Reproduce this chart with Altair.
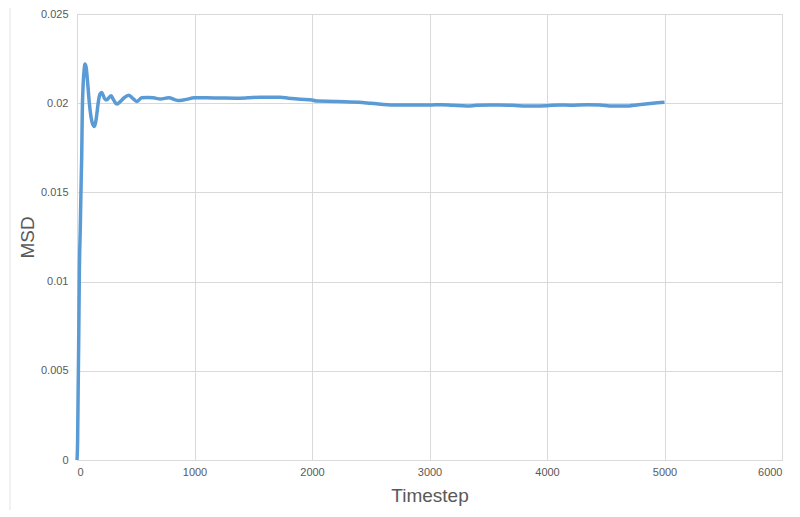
import altair as alt
import pandas as pd

timestep = [0, 5, 10, 15, 20, 28, 35, 40, 45, 52, 60, 68, 78, 90, 105, 120, 135, 150, 165, 180,
            195, 210, 225, 240, 255, 270, 290, 310, 340, 370, 400, 440, 470, 510, 550, 600,
            650, 710, 780, 860, 920, 1000, 1100, 1220, 1350, 1450, 1560, 1650, 1730, 1800,
            1900, 2000, 2040, 2200, 2400, 2500, 2700, 2800, 3000, 3100, 3200, 3320, 3400,
            3520, 3600, 3700, 3880, 4000, 4110, 4200, 4340, 4450, 4560, 4700, 4760, 4900, 5000]
msd = [0.0, 0.001, 0.004, 0.007, 0.0105, 0.013, 0.0155, 0.017, 0.0195, 0.021, 0.0218, 0.0222,
       0.0220, 0.0212, 0.0200, 0.0192, 0.0188, 0.0187, 0.0192, 0.0200, 0.0205, 0.0206, 0.0204,
       0.0202, 0.0202, 0.0203, 0.02042, 0.0202, 0.01995, 0.0201, 0.0203, 0.02045, 0.0203,
       0.0201, 0.0203, 0.02032, 0.0203, 0.02024, 0.0203, 0.02015, 0.0202, 0.0203, 0.0203,
       0.02029, 0.02028, 0.0203, 0.02034, 0.02033, 0.02033, 0.02028, 0.02022, 0.02018,
       0.02012, 0.0201, 0.02005, 0.0200, 0.0199, 0.0199, 0.0199, 0.01992, 0.01988, 0.01984,
       0.01988, 0.0199, 0.0199, 0.01988, 0.01984, 0.01986, 0.0199, 0.01989, 0.01992, 0.0199,
       0.01984, 0.01985, 0.0199, 0.0200, 0.02005]

x_ticks = [0, 1000, 2000, 3000, 4000, 5000, 6000]
y_ticks = [0, 0.005, 0.01, 0.015, 0.02, 0.025]

df = pd.DataFrame({"Timestep": timestep, "MSD": msd})

font = "Liberation Sans"
grid_color = "#D9D9D9"
text_color = "#595959"

line = alt.Chart(df).mark_line(
    color="#5B9BD5", strokeWidth=3.5, interpolate="monotone"
).encode(
    x=alt.X("Timestep:Q",
            scale=alt.Scale(domain=[0, 6000], nice=False),
            axis=alt.Axis(values=x_ticks, format="d", title="Timestep",
                          titleFontSize=19, titleFont=font, titleFontWeight="normal",
                          titleColor=text_color, titlePadding=9,
                          labelFont=font, labelFontSize=11, labelColor=text_color,
                          labelPadding=6, ticks=False, domainColor=grid_color,
                          gridColor=grid_color)),
    y=alt.Y("MSD:Q",
            scale=alt.Scale(domain=[0, 0.025], nice=False),
            axis=alt.Axis(values=y_ticks, format="~g", title="MSD",
                          titleFontSize=19, titleFont=font, titleFontWeight="normal",
                          titleColor=text_color, titlePadding=3,
                          labelFont=font, labelFontSize=11, labelColor=text_color,
                          labelPadding=9, ticks=False, domainColor=grid_color,
                          gridColor=grid_color)),
)

border = alt.Chart(pd.DataFrame({"k": [0]})).mark_rule(
    color="#E4E4E4", strokeWidth=1, clip=False
).encode(x=alt.value(-67), y=alt.value(-14), y2=alt.value(505))

chart = alt.layer(border, line).properties(
    width=705, height=446,
    autosize=alt.AutoSizeParams(type="none"),
    padding={"left": 69, "top": 6, "right": 10, "bottom": 50},
).configure_view(stroke=None).configure(background="white")

chart.save("out.html", embed_options={"renderer": "svg", "actions": False})
